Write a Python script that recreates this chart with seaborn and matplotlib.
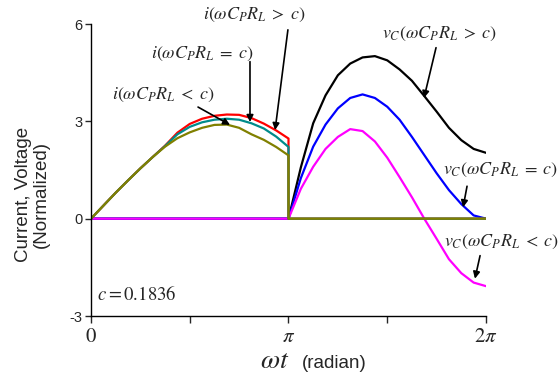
import matplotlib
matplotlib.use("Agg")
import matplotlib.pyplot as plt
import numpy as np
import seaborn as sns

# phase grid in units of pi (sampled every pi/16)
phase_i = np.linspace(0, 1, 17)      # 0 .. pi
phase_v = np.linspace(1, 2, 17)      # pi .. 2pi

# currents over the first half cycle
i_gt = [0, 0.40, 0.80, 1.18, 1.55, 1.90, 2.25, 2.65, 2.92, 3.08, 3.17, 3.21, 3.20, 3.10, 2.93, 2.72, 2.47]
i_eq = [0, 0.40, 0.80, 1.18, 1.55, 1.90, 2.24, 2.60, 2.83, 2.97, 3.05, 3.08, 3.05, 2.94, 2.78, 2.53, 2.21]
i_lt = [0, 0.40, 0.80, 1.18, 1.55, 1.90, 2.22, 2.48, 2.66, 2.80, 2.89, 2.90, 2.80, 2.60, 2.43, 2.21, 1.95]

# capacitor voltages over the second half cycle
v_gt = [0, 1.58, 2.94, 3.80, 4.42, 4.78, 4.97, 5.01, 4.88, 4.60, 4.25, 3.78, 3.30, 2.80, 2.42, 2.15, 2.03]
v_eq = [0, 1.25, 2.22, 2.90, 3.40, 3.72, 3.83, 3.72, 3.45, 3.05, 2.52, 1.96, 1.40, 0.88, 0.45, 0.10, 0.0]
v_lt = [0, 0.92, 1.60, 2.15, 2.52, 2.76, 2.70, 2.38, 1.88, 1.28, 0.66, 0.0, -0.62, -1.25, -1.68, -1.97, -2.08]

sns.set_style("ticks")
plt.rcParams['font.family'] = ['Liberation Sans', 'DejaVu Sans']
plt.rcParams['mathtext.fontset'] = 'stix'

fig = plt.figure(figsize=(5.59, 3.81), dpi=100)
ax = fig.add_axes([0.1628, 0.1706, 0.7066, 0.7664])

lw = 1.6
# voltages: zero during the first half, then the curve
for vals, col in [(v_gt, 'black'), (v_eq, '#0000ff'), (v_lt, '#ff00ff')]:
    xs = np.concatenate([[0.0], phase_v]) * np.pi
    ys = np.concatenate([[0.0], vals])
    sns.lineplot(x=xs, y=ys, color=col, lw=lw, estimator=None, sort=False, ax=ax)

# currents: curve in the first half, drop at pi, zero afterwards
for vals, col in [(i_gt, '#ff0000'), (i_eq, '#008b8b'), (i_lt, '#808000')]:
    xs = np.concatenate([phase_i, [1.0, 2.0]]) * np.pi
    ys = np.concatenate([vals, [0.0, 0.0]])
    sns.lineplot(x=xs, y=ys, color=col, lw=lw, estimator=None, sort=False, ax=ax)

ax.set_xlim(0, 2 * np.pi)
ax.set_ylim(-3, 6)
ax.set_xticks([0, np.pi / 2, np.pi, 3 * np.pi / 2, 2 * np.pi])
ax.set_xticklabels([r'$0$', '', r'$\pi$', '', r'$2\pi$'], fontsize=15)
ax.set_yticks([-3, 0, 3, 6])
ax.set_yticklabels(['-3', '0', '3', '6'], fontsize=10.5)
ax.tick_params(axis='x', length=5, width=1, direction='out', pad=3)
ax.tick_params(axis='y', length=4, width=1, direction='out', pad=2)
sns.despine(ax=ax)
for s in ['left', 'bottom']:
    ax.spines[s].set_linewidth(1.0)
    ax.spines[s].set_color('black')
ax.set_xlabel('')
ax.set_ylabel('')

# axis labels
fig.text(0.058, 0.490, 'Current, Voltage\n(Normalized)', rotation=90,
         ha='center', va='center', multialignment='center', fontsize=13.5,
         linespacing=1.05)
fig.text(0.518, 0.035, r'$\omega t$', fontsize=20, ha='right', va='baseline')
fig.text(0.540, 0.035, '(radian)', fontsize=13.5, ha='left', va='baseline')

# curve labels with arrows
P = np.pi
labels = [
    (r'$i(\omega C_P R_L\;>\;c)$', (0.825, 6.29), (0.997, 5.82), (0.932, 2.73)),
    (r'$i(\omega C_P R_L\;=\;c)$', (0.562, 5.07), (0.805, 4.84), (0.805, 2.98)),
    (r'$i(\omega C_P R_L\;<\;c)$', (0.365, 3.81), (0.542, 3.44), (0.704, 2.89)),
    (r'$v_C(\omega C_P R_L\;>\;c)$', (1.762, 5.68), (1.747, 5.27), (1.686, 3.72)),
    (r'$v_C(\omega C_P R_L\;=\;c)$', (2.075, 1.50), (1.904, 1.00), (1.884, 0.35)),
    (r'$v_C(\omega C_P R_L\;<\;c)$', (2.080, -0.73), (1.970, -1.14), (1.944, -1.85)),
]
for txt, pos, tail, head in labels:
    ax.text(pos[0] * P, pos[1], txt, fontsize=13, ha='center', va='center', clip_on=False)
    ax.annotate('', xy=(head[0] * P, head[1]), xytext=(tail[0] * P, tail[1]),
                arrowprops=dict(arrowstyle='-|>', color='black', lw=1.2,
                                mutation_scale=10, shrinkA=0, shrinkB=0),
                annotation_clip=False)

ax.text(0.030 * P, -2.35, r'$c = 0.1836$', fontsize=13.5, ha='left', va='center')

fig.savefig('out.png', dpi=100)
